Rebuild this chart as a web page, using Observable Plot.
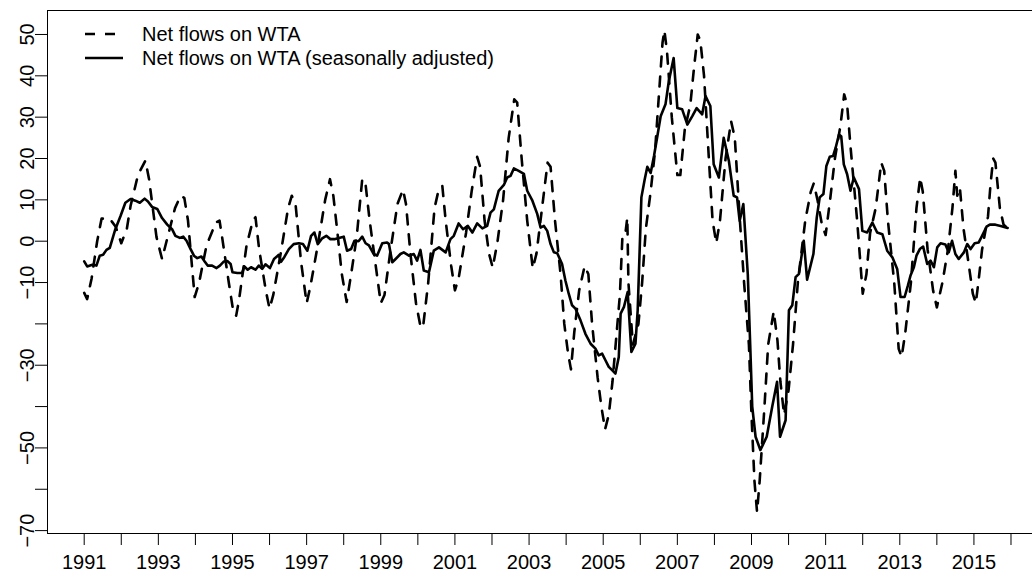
<!DOCTYPE html>
<html>
<head>
<meta charset="utf-8">
<script src="https://cdn.jsdelivr.net/npm/d3@7"></script>
<script src="https://cdn.jsdelivr.net/npm/@observablehq/plot@0.6"></script>
<style>
  html, body { margin: 0; padding: 0; background: #fff; }
  #chart { position: relative; width: 1032px; height: 576px; font-family: "Liberation Sans", Arial, Helvetica, sans-serif; }
  #legend { position: absolute; left: 0; top: 0; pointer-events: none; }
</style>
</head>
<body>
<div id="chart"></div>
<script>
// Seasonally adjusted series (decimal year, value)
const saDates = [1991.0,1991.08,1991.22,1991.33,1991.42,1991.51,1991.6,1991.69,1991.84,1991.98,
1992.11,1992.25,1992.38,1992.5,1992.63,1992.72,1992.83,1992.97,1993.1,1993.24,1993.37,1993.46,1993.58,1993.67,1993.76,1993.87,1993.96,
1994.05,1994.16,1994.25,1994.33,1994.45,1994.57,1994.66,1994.77,1994.86,1994.95,1995.0,1995.13,1995.26,1995.32,1995.41,1995.5,1995.62,1995.71,1995.8,1995.89,
1996.01,1996.12,1996.25,1996.31,1996.4,1996.52,1996.65,1996.79,1996.9,1997.02,1997.12,1997.21,1997.3,1997.42,1997.53,1997.64,1997.75,1997.87,
1998.0,1998.09,1998.2,1998.29,1998.4,1998.5,1998.59,1998.68,1998.81,1998.9,1999.04,1999.17,1999.22,1999.31,1999.4,1999.53,1999.62,1999.76,1999.89,1999.98,
2000.07,2000.16,2000.3,2000.43,2000.57,2000.75,2000.88,2000.97,2001.1,2001.22,2001.35,2001.47,2001.6,2001.74,2001.87,2001.96,
2002.05,2002.18,2002.32,2002.41,2002.5,2002.59,2002.72,2002.86,2002.95,2003.09,2003.22,2003.31,2003.4,2003.49,2003.58,2003.67,2003.76,2003.89,2003.98,
2004.07,2004.16,2004.25,2004.39,2004.52,2004.66,2004.79,2004.88,2004.97,2005.06,2005.15,2005.24,2005.33,2005.42,2005.47,2005.56,2005.66,2005.76,2005.87,2005.93,
2006.03,2006.12,2006.19,2006.28,2006.37,2006.46,2006.55,2006.68,2006.77,2006.9,2007.0,2007.13,2007.27,2007.4,2007.52,2007.67,2007.76,2007.89,2007.98,
2008.12,2008.25,2008.39,2008.52,2008.61,2008.68,2008.78,2008.9,2008.97,2009.02,2009.11,2009.24,2009.41,2009.56,2009.69,2009.77,2009.92,
2010.01,2010.1,2010.19,2010.28,2010.41,2010.5,2010.67,2010.76,2010.84,2010.94,2011.02,2011.11,2011.2,2011.27,2011.36,2011.42,2011.49,2011.58,2011.67,2011.76,2011.9,2011.99,
2012.12,2012.26,2012.39,2012.53,2012.66,2012.8,2012.93,2013.02,2013.13,2013.22,2013.29,2013.38,2013.45,2013.54,2013.63,2013.74,2013.83,2013.92,
2014.01,2014.1,2014.23,2014.32,2014.41,2014.5,2014.59,2014.73,2014.82,2014.91,2015.02,2015.13,2015.22,2015.34,2015.43,2015.58,2015.72,2015.91];
const saValues = [-4.9,-6.1,-5.7,-5.9,-3.5,-3.3,-2.1,-1.6,2.9,6.1,
9.3,10.2,9.8,9.3,10.3,9.6,8.3,7.8,5.6,4.0,2.9,1.3,0.8,1.1,0.1,-1.9,-3.5,
-4.1,-3.7,-4.9,-5.9,-5.9,-6.5,-5.9,-4.9,-4.8,-5.5,-7.5,-7.7,-7.7,-6.1,-6.9,-6.3,-6.9,-5.9,-6.7,-5.6,
-6.5,-4.3,-3.3,-5.0,-3.8,-1.9,-0.7,-0.5,-0.7,-2.3,1.3,2.1,-0.7,0.7,1.3,0.5,0.5,0.8,
1.1,-2.3,-1.9,0.1,0,1.1,-0.5,-1.0,-3.1,-3.5,-0.5,-0.3,-0.7,-5.1,-4.3,-3.1,-2.7,-3.5,-3.1,-4.7,
-2.1,-7.1,-7.5,-2.3,-1.5,-2.7,0.5,1.3,4.3,2.9,3.7,2.1,4.3,3.1,3.7,6.9,
7.7,12.2,13.6,15.4,15.8,17.6,17.0,16.3,12.2,9.8,6.6,3.3,3.7,2.5,-0.7,-2.7,-2.9,-5.5,-9.5,
-12.7,-15.5,-16.3,-19.2,-22.4,-24.8,-26.0,-27.6,-27.2,-28.8,-30.4,-31.2,-32.0,-28.0,-17.5,-15.9,-12.3,-26.8,-24.8,-16.7,
10.6,15.0,18.0,16.5,20.6,25.4,30.2,33.1,38.7,44.3,32.2,31.9,28.2,30.2,32.2,30.7,35.1,32.7,18.6,
15.4,25.0,19.4,11.0,10.6,4.9,9.0,-8.0,-26.4,-40.0,-47.3,-50.5,-47.3,-40.0,-34.0,-47.3,-43.3,
-16.7,-15.5,-8.7,-7.9,0.1,-9.3,-3.1,5.7,10.6,11.4,18.2,20.4,20.6,22.6,25.8,25.4,18.6,16.2,12.2,15.4,12.6,2.5,
2.1,4.5,2.1,1.7,-2.3,-3.9,-6.7,-13.5,-13.5,-10.7,-8.3,-6.3,-3.5,-1.9,-1.3,-5.5,-4.7,-6.3,
-1.5,-0.5,-0.8,-2.7,0.1,-3.1,-4.3,-2.7,-0.7,-1.9,-0.5,-0.3,1.3,3.5,4.0,4.0,3.7,3.2];

// Raw series (decimal year, value)
const rawDates = [1991.0,1991.08,1991.2,1991.35,1991.47,1991.7,1991.85,1992.0,1992.15,1992.25,1992.45,1992.65,1992.75,1992.95,
1993.1,1993.25,1993.45,1993.6,1993.7,1993.8,1993.98,1994.1,1994.3,1994.55,1994.65,1994.72,1994.9,1995.03,1995.1,1995.18,1995.38,1995.55,1995.62,1995.72,1995.9,
1996.0,1996.1,1996.3,1996.5,1996.6,1996.7,1996.85,1997.0,1997.1,1997.3,1997.5,1997.63,1997.72,1997.82,1997.95,
1998.08,1998.2,1998.35,1998.5,1998.58,1998.7,1998.85,1999.0,1999.1,1999.25,1999.45,1999.6,1999.68,1999.8,1999.95,
2000.08,2000.15,2000.28,2000.45,2000.55,2000.66,2000.75,2000.9,2001.0,2001.1,2001.3,2001.45,2001.6,2001.68,2001.8,2001.92,
2002.02,2002.15,2002.3,2002.45,2002.6,2002.68,2002.8,2002.95,2003.1,2003.2,2003.35,2003.5,2003.58,2003.7,2003.85,2003.95,
2004.05,2004.13,2004.22,2004.35,2004.5,2004.6,2004.7,2004.85,2004.95,2005.05,2005.15,2005.25,2005.45,2005.52,2005.6,2005.65,2005.68,2005.8,2005.95,
2006.05,2006.15,2006.28,2006.4,2006.5,2006.6,2006.65,2006.72,2006.85,2007.0,2007.08,2007.2,2007.35,2007.45,2007.55,2007.62,2007.72,2007.85,2007.95,
2008.05,2008.15,2008.3,2008.45,2008.55,2008.68,2008.8,2008.93,2009.0,2009.08,2009.15,2009.22,2009.35,2009.45,2009.6,2009.7,2009.78,2009.88,
2010.0,2010.12,2010.25,2010.45,2010.6,2010.68,2010.78,2010.9,2011.0,2011.12,2011.25,2011.4,2011.5,2011.58,2011.67,2011.85,
2012.0,2012.1,2012.2,2012.35,2012.5,2012.58,2012.68,2012.85,2012.97,2013.05,2013.15,2013.3,2013.45,2013.55,2013.62,2013.75,2013.9,
2014.0,2014.15,2014.3,2014.42,2014.5,2014.55,2014.62,2014.72,2014.85,2014.97,2015.05,2015.12,2015.22,2015.38,2015.45,2015.52,2015.58,2015.7,2015.8,2015.92];
const rawValues = [-12.5,-14,-9,0,5.5,5.3,3.5,-0.5,3,8.5,16,19.5,15,1,
-4.3,1,8,11,10.5,5,-13.5,-10,-1,4.5,5,1,-10,-17.5,-18,-14,-1,5,5.8,-2,-12,
-16.3,-13,-3,8,11,9,-5,-15,-11,-1,10,15,11,3,-8,
-14.7,-8,1,15,14.5,5,-5,-15,-13,-3,9,12.5,9,-3,-15,
-21,-20,-10,8,12,13.4,5,-6,-11.9,-9,2,12,20.4,18,5,-3,
-6.4,0,10,25,34.3,33.5,20,5,-6.6,-3,8,19,18,5,-8,-20,
-27,-31,-22,-12,-6,-8,-20,-33,-40,-45.5,-42,-34,-13,1.5,2,5.7,-10,-25,-20,
-10,3,12,22,35,48,51,46,30,16,16,27,33,42,50,48.5,40,20,5,
-0.5,5,20,29,25,6,-10,-25,-42,-58,-65.5,-58,-40,-25,-17,-24,-34,-42,
-36,-25,-10,5,12,14,10,4,1.5,10,20,28,35.5,33,23,5,
-12.7,-8,2,8,19,17,5,-10,-26,-28,-22,-10,8,15.4,12,-2,-12,
-16,-10,-2,8,17,11,13,3,-5,-12.7,-15,-10,-2,6,14,20,19,8,4,3];

const xTicks = [1991,1992,1993,1994,1995,1996,1997,1998,1999,2000,2001,2002,2003,2004,2005,2006,2007,2008,2009,2010,2011,2012,2013,2014,2015,2016];
const xLabels = [1991,1993,1995,1997,1999,2001,2003,2005,2007,2009,2011,2013,2015];
const yTicks = [-70,-60,-50,-40,-30,-20,-10,0,10,20,30,40,50];
const yLabels = [50,40,30,20,10,0,-10,-30,-50,-70];
const seriesNames = ["Net flows on WTA", "Net flows on WTA (seasonally adjusted)"];

const xDomain = [1990.01, 2016.58];
const yDomain = [-70.7, 55.8];
const FONT = '"Liberation Sans", Arial, Helvetica, sans-serif';

const sa = saDates.map((t, i) => ({t, v: saValues[i]}));
const raw = rawDates.map((t, i) => ({t, v: rawValues[i]}));
const fmt = d => (d < 0 ? "\u2212" + Math.abs(d) : String(d));

const chart = Plot.plot({
  width: 1032,
  height: 576,
  marginLeft: 47,
  marginRight: 0,
  marginTop: 10,
  marginBottom: 43,
  style: {fontFamily: FONT, background: "#fff", color: "#000"},
  x: {domain: xDomain, axis: null, label: null},
  y: {domain: yDomain, axis: null, label: null},
  marks: [
    Plot.line(raw, {x: "t", y: "v", stroke: "#000", strokeWidth: 2.6, strokeDasharray: "10,10", strokeLinejoin: "round"}),
    Plot.line(sa, {x: "t", y: "v", stroke: "#000", strokeWidth: 2.6, strokeLinejoin: "round", strokeLinecap: "round"}),
    Plot.ruleY([yDomain[0]], {stroke: "#000", strokeWidth: 1}),
    Plot.ruleY([yDomain[1]], {stroke: "#000", strokeWidth: 1}),
    Plot.ruleX([xDomain[0]], {stroke: "#000", strokeWidth: 1}),
    Plot.axisX({ticks: xTicks, anchor: "bottom", label: null, tickSize: 12, tickPadding: 9, fontSize: 20,
      tickFormat: d => (xLabels.includes(d) ? String(d) : "")}),
    Plot.axisY({ticks: yTicks, anchor: "left", label: null, tickSize: 12, tickFormat: () => ""}),
    Plot.text(yLabels, {y: d => d, text: fmt, frameAnchor: "left", dx: -20, rotate: -90,
      textAnchor: "middle", lineAnchor: "middle", fontSize: 20, fill: "#000"})
  ]
});
const root = document.getElementById("chart");
root.appendChild(chart);

// Legend (R-style, inside plot area)
const ns = "http://www.w3.org/2000/svg";
const lg = document.createElementNS(ns, "svg");
lg.setAttribute("id", "legend");
lg.setAttribute("width", 1032);
lg.setAttribute("height", 576);
const items = [
  {name: seriesNames[0], dash: "10,10", y: 34},
  {name: seriesNames[1], dash: null, y: 58}
];
items.forEach(it => {
  const l = document.createElementNS(ns, "line");
  l.setAttribute("x1", 85); l.setAttribute("x2", 123);
  l.setAttribute("y1", it.y); l.setAttribute("y2", it.y);
  l.setAttribute("stroke", "#000"); l.setAttribute("stroke-width", 2.6);
  if (it.dash) l.setAttribute("stroke-dasharray", it.dash);
  lg.appendChild(l);
  const tx = document.createElementNS(ns, "text");
  tx.setAttribute("x", 142); tx.setAttribute("y", it.y + 7);
  tx.setAttribute("font-family", FONT); tx.setAttribute("font-size", 20);
  tx.setAttribute("fill", "#000");
  tx.textContent = it.name;
  lg.appendChild(tx);
});
root.appendChild(lg);
</script>
</body>
</html>
